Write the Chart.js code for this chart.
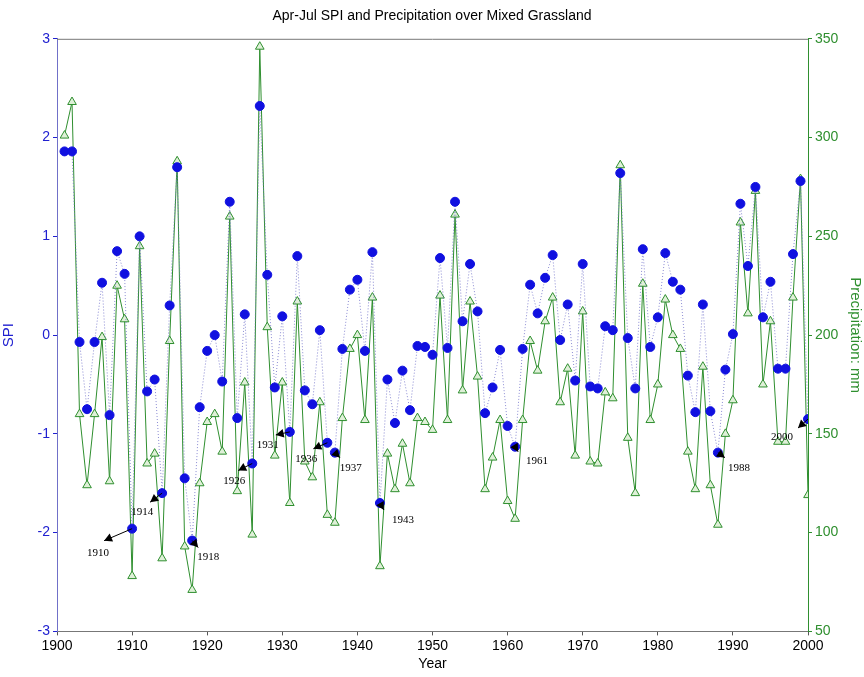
<!DOCTYPE html>
<html>
<head>
<meta charset="utf-8">
<script src="https://cdn.jsdelivr.net/npm/chart.js@4"></script>
<style>
  body { margin: 0; background: #fff; }
  #wrap { width: 864px; height: 677px; }
</style>
</head>
<body>
<div id="wrap"><canvas id="c"></canvas></div>
<script>
var years = [];
for (var y = 1901; y <= 2000; y++) years.push(y);

var spi = [1.86, 1.86, -0.07, -0.75, -0.07, 0.53, -0.81, 0.85, 0.62, -1.96,
  1.0, -0.57, -0.45, -1.6, 0.3, 1.7, -1.45, -2.08, -0.73, -0.16,
  0.0, -0.47, 1.35, -0.84, 0.21, -1.3, 2.32, 0.61, -0.53, 0.19,
  -0.98, 0.8, -0.56, -0.7, 0.05, -1.09, -1.19, -0.14, 0.46, 0.56,
  -0.16, 0.84, -1.7, -0.45, -0.89, -0.36, -0.76, -0.11, -0.12, -0.2,
  0.78, -0.13, 1.35, 0.14, 0.72, 0.24, -0.79, -0.53, -0.15, -0.92,
  -1.13, -0.14, 0.51, 0.22, 0.58, 0.81, -0.05, 0.31, -0.46, 0.72,
  -0.52, -0.54, 0.09, 0.05, 1.64, -0.03, -0.54, 0.87, -0.12, 0.18,
  0.83, 0.54, 0.46, -0.41, -0.78, 0.31, -0.77, -1.19, -0.35, 0.01,
  1.33, 0.7, 1.5, 0.18, 0.54, -0.34, -0.34, 0.82, 1.56, -0.85];

var precip = [301, 318, 160, 124, 160, 199, 126, 225, 208, 78,
  245, 135, 140, 87, 197, 288, 93, 71, 125, 156,
  160, 141, 260, 121, 176, 99, 346, 204, 139, 176,
  115, 217, 136, 128, 166, 109, 105, 158, 193, 200,
  157, 219, 83, 140, 122, 145, 125, 158, 156, 152,
  220, 157, 261, 172, 217, 179, 122, 138, 157, 116,
  107, 157, 197, 182, 207, 219, 166, 183, 139, 212,
  136, 135, 171, 168, 286, 148, 120, 226, 157, 175,
  218, 200, 193, 141, 122, 184, 124, 104, 150, 167,
  257, 211, 273, 175, 207, 146, 146, 219, 279, 119];

var spiTicks = [-3, -2, -1, 0, 1, 2, 3];
var precipTicks = [50, 100, 150, 200, 250, 300, 350];
var yearTicks = [1900, 1910, 1920, 1930, 1940, 1950, 1960, 1970, 1980, 1990, 2000];

// marked drought years: [year, arrow dx, arrow dy, label dx, label dy]
var marks = [
  [1910, -28, 12, -6, 12], [1914, -12, 9, -8, 10], [1918, 6, 7, 10, 10],
  [1926, -14, 7, -4, 11], [1931, -14, 3, -8, 10], [1936, -14, 6, -7, 10],
  [1937, 5, 5, 11, 10], [1943, 4, 7, 19, 10], [1961, 3, 5, 19, 9],
  [1988, 7, 5, 14, 10], [2000, -10, 9, -16, 9]
];

var green = '#2f8f2f';

var marksPlugin = {
  id: 'marks',
  afterDatasetsDraw: function (chart) {
    var ctx = chart.ctx, xs = chart.scales.x, ys = chart.scales.y, a0 = chart.chartArea;
    ctx.save();
    // top frame line
    ctx.strokeStyle = '#777';
    ctx.lineWidth = 1;
    ctx.beginPath();
    ctx.moveTo(a0.left, a0.top + 0.5);
    ctx.lineTo(a0.right, a0.top + 0.5);
    ctx.stroke();

    ctx.fillStyle = '#000';
    ctx.strokeStyle = '#000';
    ctx.font = '11px "Liberation Serif", serif';
    ctx.textAlign = 'center';
    ctx.textBaseline = 'middle';
    marks.forEach(function (m) {
      var i = years.indexOf(m[0]);
      var px = xs.getPixelForValue(m[0]), py = ys.getPixelForValue(spi[i]);
      var ax = px + m[1], ay = py + m[2];
      ctx.beginPath();
      ctx.moveTo(px, py);
      ctx.lineTo(ax, ay);
      ctx.stroke();
      var a = Math.atan2(ay - py, ax - px);
      ctx.beginPath();
      ctx.moveTo(ax, ay);
      ctx.lineTo(ax - 9 * Math.cos(a - 0.5), ay - 9 * Math.sin(a - 0.5));
      ctx.lineTo(ax - 9 * Math.cos(a + 0.5), ay - 9 * Math.sin(a + 0.5));
      ctx.closePath();
      ctx.fill();
      ctx.fillText(String(m[0]), ax + m[3], ay + m[4]);
    });
    ctx.restore();
  }
};

new Chart(document.getElementById('c'), {
  type: 'line',
  data: {
    datasets: [{
      label: 'SPI',
      data: years.map(function (yr, i) { return { x: yr, y: spi[i] }; }),
      yAxisID: 'y',
      borderColor: 'rgba(110,110,200,0.8)',
      borderWidth: 1,
      borderDash: [1, 2],
      pointStyle: 'circle',
      pointRadius: 4.5,
      pointBackgroundColor: '#1010e0',
      pointBorderColor: '#1010e0',
      tension: 0
    }, {
      label: 'Precipitation',
      data: years.map(function (yr, i) { return { x: yr, y: precip[i] }; }),
      yAxisID: 'y1',
      borderColor: green,
      borderWidth: 1,
      pointStyle: 'triangle',
      pointRadius: 5,
      pointBackgroundColor: '#dff0d8',
      pointBorderColor: green,
      pointBorderWidth: 1,
      tension: 0
    }]
  },
  options: {
    responsive: true,
    maintainAspectRatio: false,
    animation: false,
    layout: { padding: { top: 0, bottom: 4 } },
    plugins: {
      legend: { display: false },
      tooltip: { enabled: false },
      title: {
        display: true,
        text: 'Apr-Jul SPI and Precipitation over Mixed Grassland',
        color: '#000',
        font: { family: 'Arial, "Liberation Sans"', size: 14, weight: 'normal' },
        padding: { top: 8, bottom: 14 }
      }
    },
    scales: {
      x: {
        type: 'linear', min: 1900, max: 2000,
        afterBuildTicks: function (s) { s.ticks = yearTicks.map(function (v) { return { value: v }; }); },
        grid: { drawOnChartArea: false, color: '#555', tickLength: 4 },
        border: { color: '#777' },
        ticks: { color: '#000', font: { family: 'Arial, "Liberation Sans"', size: 14 }, padding: 2,
          callback: function (v) { return String(v); } },
        title: { display: true, text: 'Year', color: '#000', font: { family: 'Arial, "Liberation Sans"', size: 14 }, padding: 0 }
      },
      y: {
        position: 'left', min: -3, max: 3,
        afterBuildTicks: function (s) { s.ticks = spiTicks.map(function (v) { return { value: v }; }); },
        afterFit: function (s) { s.width = 57; },
        grid: { drawOnChartArea: false, color: '#2020d0', tickLength: 4 },
        border: { color: '#7070c8' },
        ticks: { color: '#2020d0', font: { family: 'Arial, "Liberation Sans"', size: 14 } },
        title: { display: true, text: 'SPI', color: '#2020d0', font: { family: 'Arial, "Liberation Sans"', size: 15 }, padding: 0 }
      },
      y1: {
        position: 'right', min: 50, max: 350,
        afterBuildTicks: function (s) { s.ticks = precipTicks.map(function (v) { return { value: v }; }); },
        afterFit: function (s) { s.width = 56; },
        grid: { drawOnChartArea: false, color: green, tickLength: 4 },
        border: { color: green },
        ticks: { color: green, font: { family: 'Arial, "Liberation Sans"', size: 14 } },
        title: { display: true, text: 'Precipitation: mm', color: green, font: { family: 'Arial, "Liberation Sans"', size: 15 }, padding: 0 }
      }
    }
  },
  plugins: [marksPlugin]
});
</script>
</body>
</html>
